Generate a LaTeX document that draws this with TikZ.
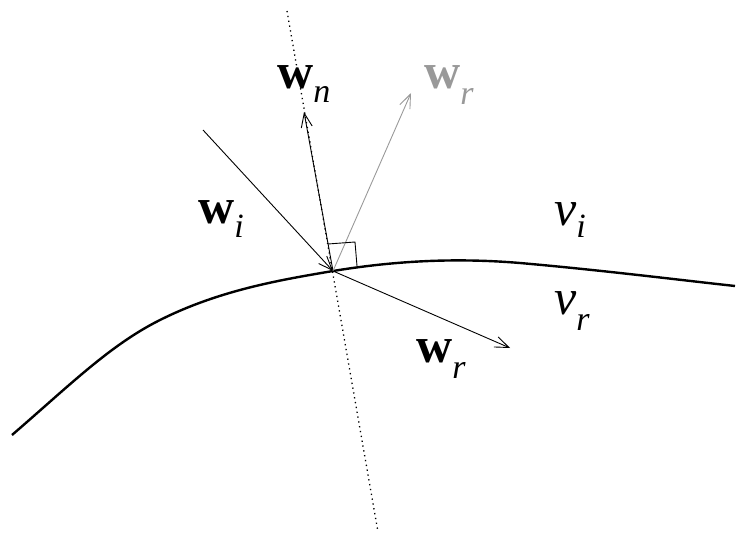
\documentclass[tikz,border=0pt]{standalone}
\usepackage{fontspec}
\setmainfont{Liberation Serif}
\newfontfamily\tms{Liberation Serif}
\usetikzlibrary{arrows.meta}
\begin{document}
\begin{tikzpicture}[x=1pt,y=-1pt,
  vec/.style={line width=0.9pt,-{Straight Barb[length=14pt,width=11pt,line width=0.9pt]}},
  lbl/.style={anchor=base west,inner sep=0pt,font=\tms\fontsize{50}{50}\selectfont},
  surf/.style={line width=2.4pt}]
\useasboundingbox (0,0) rectangle (746,534);
\coordinate (P) at (333,271);
\coordinate (ntop) at (287,11);
\coordinate (nbot) at (378,532);
\coordinate (wiS) at (203,130);
\coordinate (wnE) at (304,112);
\coordinate (grE) at (411,93);
\coordinate (wrE) at (510,348);
% normal
\draw[line width=1.3pt,dash pattern=on 1.3pt off 3.6pt] (ntop) -- (nbot);
% surface
\draw[surf] (12,435) .. controls (70,385) and (110,345) .. (160,320)
  .. controls (220,290) and (280,280) .. (P)
  .. controls (400,260) and (460,258) .. (520,263)
  .. controls (600,270) and (680,280) .. (735,286);
% vectors
\draw[vec] (wiS) -- (P);
\draw[vec] (P) -- (wnE);
\draw[vec,gray!80] (P) -- (grE);
\draw[vec] (P) -- (wrE);
% right angle
\draw[line width=0.9pt] (328,244) -- (355,242) -- (357,266);
% labels
\node[lbl] (lwi) at (198,224) {\textbf{w}\raisebox{-14pt}{\fontsize{34}{34}\selectfont\itshape i}};
\node[lbl] (lwn) at (277,89) {\textbf{w}\raisebox{-14pt}{\fontsize{34}{34}\selectfont\itshape n}};
\node[lbl,gray!80] (lwg) at (424,89) {\textbf{w}\raisebox{-16pt}{\fontsize{34}{34}\selectfont\itshape r}};
\node[lbl] (lwr) at (416,362) {\textbf{w}\raisebox{-16pt}{\fontsize{34}{34}\selectfont\itshape r}};
\node[lbl] (lvi) at (554,226) {\itshape v\raisebox{-12pt}{\fontsize{34}{34}\selectfont\itshape i}};
\node[lbl] (lvr) at (554,314) {\itshape v\raisebox{-16pt}{\fontsize{34}{34}\selectfont\itshape r}};
\end{tikzpicture}
\end{document}
